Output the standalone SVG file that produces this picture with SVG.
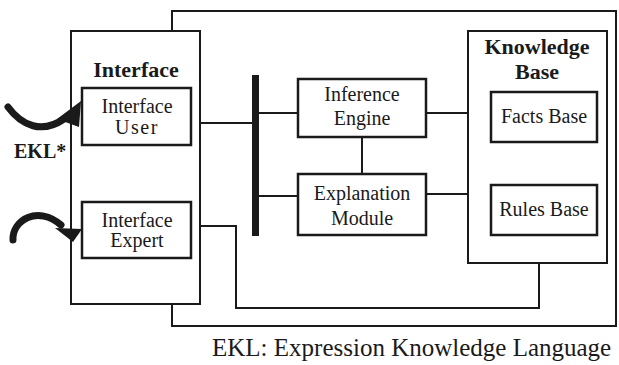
<svg xmlns="http://www.w3.org/2000/svg" width="619" height="365" viewBox="0 0 619 365">
  <style>
    .frame { fill: #fff; stroke: #1a1a1a; stroke-width: 2; }
    .box { fill: #fff; stroke: #1a1a1a; stroke-width: 2.5; }
    .wire { fill: none; stroke: #1a1a1a; stroke-width: 2; }
    .brush { fill: none; stroke: #1a1a1a; stroke-width: 7; stroke-linecap: round; }
    text { font-family: "Liberation Serif", Tinos, "Noto Serif", "Nimbus Roman", "Nimbus Roman No9 L", FreeSerif, Times, "DejaVu Serif", serif; fill: #1a1a1a; }
    .lbl { font-size: 20px; text-anchor: middle; }
    .title { font-size: 22px; font-weight: bold; text-anchor: middle; }
    .ink { fill: #1a1a1a; }
  </style>
  <rect width="619" height="365" fill="#fff"/>

  <!-- system enclosure -->
  <g id="system">
    <rect class="frame" x="172" y="11" width="444" height="315"/>
  </g>

  <!-- connectors -->
  <g id="connectors">
    <path class="wire" d="M200,123 H253"/>
    <path class="wire" d="M259,113 H298"/>
    <path class="wire" d="M259,196 H298"/>
    <path class="wire" d="M362,137 V174"/>
    <path class="wire" d="M426,113 H468"/>
    <path class="wire" d="M426,194 H468"/>
    <path class="wire" d="M191,226 H236 V308 H539 V263"/>
    <rect id="bus" class="ink" x="252" y="75" width="7" height="161"/>
  </g>

  <!-- interface block -->
  <g id="interface">
    <rect class="frame" x="71" y="31" width="129" height="273"/>
    <text class="title" x="136" y="77">Interface</text>
  </g>
  <g id="interface-user">
    <rect class="box" x="82" y="88" width="109" height="57"/>
    <text class="lbl" x="137" y="113">Interface</text>
    <text class="lbl" x="137" y="134" letter-spacing="1.5">User</text>
  </g>
  <g id="interface-expert">
    <rect class="box" x="82" y="202" width="109" height="56"/>
    <text class="lbl" x="137" y="227">Interface</text>
    <text class="lbl" x="137" y="247">Expert</text>
  </g>

  <!-- reasoning components -->
  <g id="inference-engine">
    <rect class="box" x="298" y="79" width="128" height="58"/>
    <text class="lbl" x="362" y="101">Inference</text>
    <text class="lbl" x="362" y="125">Engine</text>
  </g>
  <g id="explanation-module">
    <rect class="box" x="298" y="174" width="128" height="61"/>
    <text class="lbl" x="362" y="200">Explanation</text>
    <text class="lbl" x="362" y="225">Module</text>
  </g>

  <!-- knowledge base -->
  <g id="knowledge-base">
    <rect class="frame" x="468" y="31" width="139" height="232"/>
    <text class="title" x="537" y="54">Knowledge</text>
    <text class="title" x="537" y="79">Base</text>
  </g>
  <g id="facts-base">
    <rect class="box" x="491" y="92" width="106" height="50"/>
    <text class="lbl" x="544" y="123">Facts Base</text>
  </g>
  <g id="rules-base">
    <rect class="box" x="491" y="185" width="106" height="50"/>
    <text class="lbl" x="544" y="216">Rules Base</text>
  </g>

  <!-- EKL input arrows -->
  <g id="ekl-input">
    <path class="brush" d="M8,107 C22,126 42,134 64,119"/>
    <polygon class="ink" points="81,101 57,119 79,127"/>
    <path class="brush" d="M13,240 C12,220 38,205 61,225"/>
    <polygon class="ink" points="55,228 82,229 73,242"/>
    <text x="14" y="158" font-size="20" font-weight="bold">EKL*</text>
  </g>

  <!-- legend -->
  <text x="212" y="356" font-size="25">EKL: Expression Knowledge Language</text>
</svg>
